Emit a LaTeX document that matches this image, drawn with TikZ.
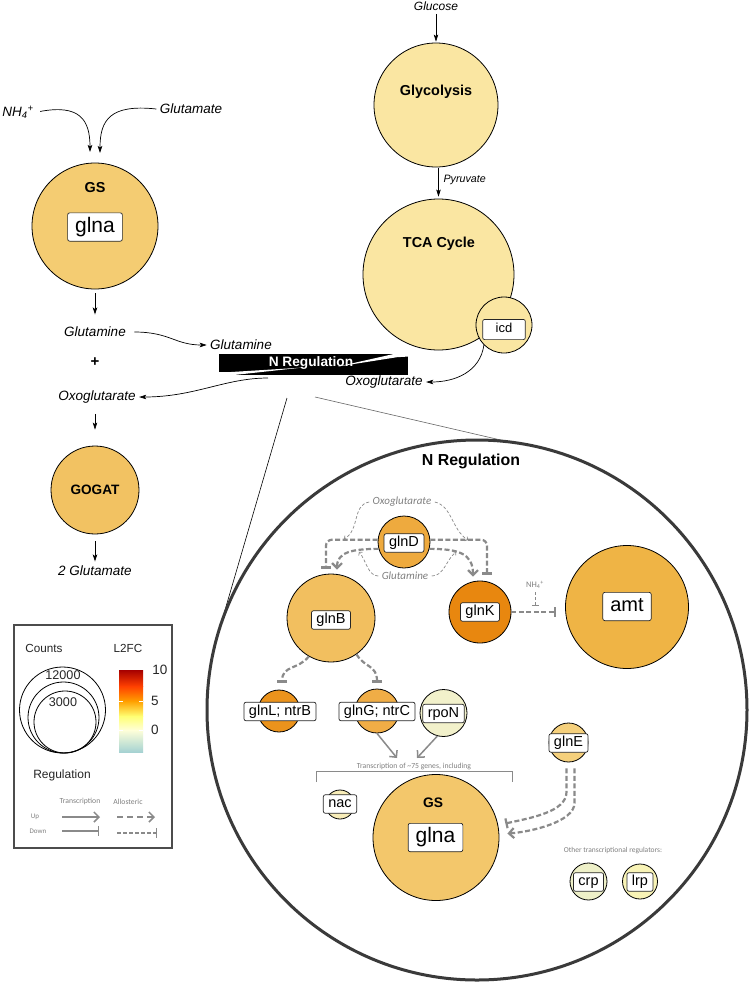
\documentclass[tikz,border=0pt]{standalone}
\usepackage{fontspec}
\setmainfont{Liberation Sans}
\newfontfamily\calfont{Carlito}
\usetikzlibrary{arrows.meta}

\newcommand\fsz[1]{\fontsize{#1}{#1}\selectfont}

\definecolor{gsc}{HTML}{F4CC72}
\definecolor{gogatc}{HTML}{F2C262}
\definecolor{palec}{HTML}{FAE6A2}
\definecolor{glnDc}{HTML}{EEAA3E}
\definecolor{glnBc}{HTML}{F2BF5F}
\definecolor{glnKc}{HTML}{E8870F}
\definecolor{amtc}{HTML}{EFB445}
\definecolor{glnLc}{HTML}{EB931C}
\definecolor{glnGc}{HTML}{F0AD46}
\definecolor{rpoNc}{HTML}{F2F1CB}
\definecolor{glnEc}{HTML}{F5D07C}
\definecolor{nacc}{HTML}{F8EDB8}
\definecolor{gstwoc}{HTML}{F3C76B}
\definecolor{crpc}{HTML}{EEF0C8}
\definecolor{lrpc}{HTML}{F8F3B6}
\definecolor{arrowgray}{HTML}{8A8A8A}
\definecolor{labelgray}{HTML}{808080}
\definecolor{ringgray}{HTML}{3A3A3A}

\tikzset{
	enzyme/.style={circle, draw=black, line width=0.8pt, inner sep=0pt, minimum size=#1},
	genebox/.style={draw=black!85, fill=white, rounded corners=2pt, line width=0.7pt, inner xsep=5pt, inner ysep=2.5pt, text height=10.5pt, text depth=3pt, font=\fsz{14.5}},
	bigbox/.style={genebox, inner xsep=7.5pt, inner ysep=4.5pt, text height=15pt, text depth=4.3pt, font=\fsz{21}},
	metab/.style={font=\itshape\fsz{13.5}},
	proc/.style={font=\bfseries\fsz{14.4}},
	flow/.style={line width=0.7pt, -{Stealth[length=7pt,width=4.5pt,inset=1.5pt]}},
	trans/.style={draw=arrowgray, line width=1.5pt},
	allo/.style={draw=arrowgray, line width=2.2pt, dash pattern=on 5pt off 2.5pt},
	hint/.style={draw=arrowgray, line width=0.7pt, dash pattern=on 3pt off 2pt},
	upreg/.style={-{Straight Barb[length=5pt,width=10pt]}},
	downreg/.style={-{Bar[width=10pt]}},
	note/.style={font=\calfont\fsz{7.7}, text=labelgray},
	legtext/.style={font=\fsz{11.7}, text=black!85},
}

\begin{document}
\begin{tikzpicture}[x=1pt,y=-1pt]
			%%%%% START %%%%%
			
			\fill[white] (0,0) rectangle (750,986);
			\useasboundingbox (0,0) rectangle (750,986);
			
			%% glutamine synthetase
			\node[enzyme=126pt, fill=gsc] (gs) at (95,226) {};
			\node[proc] (gslab) at (95,188) {GS};
			\node[bigbox] (gsbox) at (95,227) {glna};
			\node[metab] (nh4) at (18,112) {NH\textsubscript{4}\textsuperscript{+}};
			\node[metab] (glut) at (191,109) {Glutamate};
			\coordinate (gsinA) at (90,152);
			\coordinate (gsinB) at (100,153);
			\draw[flow, shorten <=3pt] (nh4.east) .. controls (80,104) and (90,120) .. (gsinA);
			\draw[flow] (glut.west) .. controls (110,104) and (100,120) .. (gsinB);
			
			\node[metab] (glu1) at (95,332) {Glutamine};
			\draw[flow, shorten <=4pt, shorten >=9pt] (gs.south) -- (glu1.north);
			\node[font=\bfseries\fsz{15}] (plus) at (95,362) {+};
			\node[metab] (oxo1) at (97,397) {Oxoglutarate};
			
			\node[enzyme=88pt, fill=gogatc] (gogat) at (95,490) {};
			\node[font=\bfseries\fsz{13.6}] (gogatlab) at (95,490) {GOGAT};
			\node[metab] (glu3) at (95,571) {2 Glutamate};
			\draw[flow, shorten <=7pt, shorten >=16pt] (oxo1.south -| gogat.north) -- (gogat.north);
			\draw[flow, shorten <=7pt, shorten >=1pt] (gogat.south) -- (glu3.north);
			
			%% glycolysis and TCA cycle
			\node[metab, font=\itshape\fsz{12}] (glc) at (436,6) {Glucose};
			\node[enzyme=124pt, fill=palec] (glyc) at (436,105) {};
			\node[proc] (glyclab) at (436,92) {Glycolysis};
			\node[enzyme=151pt, fill=palec] (tca) at (438.5,274.5) {};
			\node[proc] (tcalab) at (439,244) {TCA Cycle};
			\draw[flow, shorten >=1pt] (glc.south) -- (glyc.north);
			\draw[flow, shorten <=1pt, shorten >=2pt] (tca.north |- glyc.south) -- (tca.north);
			\node[metab, font=\itshape\fsz{10.7}, anchor=west] (pyr) at (440,180) {Pyruvate};
			
			\node[enzyme=56pt, fill=palec] (icd) at (504,325) {};
			\node[genebox, font=\fsz{13}, inner xsep=13pt, inner ysep=4pt, text height=9.5pt, text depth=2.7pt] (icdbox) at (504,329.5) {icd};
			
			%% N regulation bar
			\fill (219,354) rectangle (408,374.5);
			\fill[white] (338,366.5) -- (396,353.5) -- (409,353.5) -- (409,356.5) -- (397,357.2) -- cycle;
			\fill[white] (218,375) -- (218,372) -- (228,372.2) -- (302,367.6) -- (234,375) -- cycle;
			\node[font=\bfseries\fsz{13.7}, text=white] (nbar) at (311,363) {N Regulation};
			\node[metab] (glu2) at (241,345) {Glutamine};
			\node[metab] (oxo2) at (384,382) {Oxoglutarate};
			\coordinate (barout) at (268,378);
			\draw[flow, shorten <=5pt] (glu1.east) .. controls (170,332) and (175,345) .. (glu2.west);
			\draw[flow] (barout) .. controls (225,378) and (195,397) .. (oxo1.east);
			\draw[flow] (icd.225) .. controls (480,372) and (455,382) .. (oxo2.east);
			
			%% zoom lines
			\coordinate (zoomA) at (287,398);
			\coordinate (zoomB) at (315,397);
			\coordinate (zoomAend) at (218,634);
			\coordinate (zoomBend) at (505,441);
			\draw[line width=0.6pt] (zoomA) -- (zoomAend);
			\draw[line width=0.6pt, black!60] (zoomB) -- (zoomBend);
			
			%% N regulation detail
			\node[circle, draw=ringgray, line width=3pt, minimum size=540pt, inner sep=0pt] (nreg) at (477,710) {};
			\node[font=\bfseries\fsz{15.9}] (nreglab) at (471,461) {N Regulation};
			
			\node[enzyme=52pt, fill=glnDc] (glnD) at (404,542) {};
			\node[genebox] (glnDbox) at (404,543) {glnD};
			\node[enzyme=88pt, fill=glnBc] (glnB) at (331,618) {};
			\node[genebox] (glnBbox) at (331,620) {glnB};
			\node[enzyme=62pt, fill=glnKc] (glnK) at (480,612) {};
			\node[genebox] (glnKbox) at (480,612) {glnK};
			\node[enzyme=123pt, fill=amtc] (amt) at (627,607) {};
			\node[bigbox, font=\fsz{20}] (amtbox) at (627,606.5) {amt};
			
			\node[font=\calfont\itshape\fsz{11}, text=labelgray] (oxoD) at (402,502) {Oxoglutarate};
			\node[font=\calfont\itshape\fsz{11}, text=labelgray] (gluD) at (405,576) {Glutamine};
			\node[font=\calfont\fsz{8.5}, text=labelgray] (nh4K) at (535,585) {NH\textsubscript{4}\textsuperscript{+}};
			
			\draw[allo, downreg, rounded corners=6pt] (glnD.175) -| ([xshift=-5pt,yshift=5pt]glnB.north);
			\draw[allo, upreg] (glnD.195) .. controls (352,549) and (337,552) .. ([xshift=6pt,yshift=4pt]glnB.north);
			\draw[allo, downreg, rounded corners=6pt] (glnD.5) -| ([xshift=7pt,yshift=6pt]glnK.north);
			\draw[allo, upreg] (glnD.345) .. controls (458,549) and (473,553) .. ([xshift=-7pt,yshift=4pt]glnK.north);
			
			\draw[hint, -{Straight Barb[length=2pt,width=5pt]}] (oxoD.west) .. controls (352,505) and (360,530) .. (344,539);
			\draw[hint, -{Straight Barb[length=2pt,width=5pt]}] (oxoD.east) .. controls (452,506) and (452,530) .. (468,540);
			\draw[hint, -{Straight Barb[length=2pt,width=5pt]}] (gluD.west) .. controls (368,576) and (366,560) .. (359,552);
			\draw[hint, -{Straight Barb[length=2pt,width=5pt]}] (gluD.east) .. controls (444,576) and (446,560) .. (456,552);
			
			\coordinate (nh4end) at (535,606);
			\draw[hint, -{Bar[width=7pt]}] (nh4K.south) -- (nh4end);
			\draw[allo, downreg, shorten >=9pt] (glnK.east) -- (glnK.east -| amt.west);
			
			\node[enzyme=42pt, fill=glnLc] (glnL) at (279,711) {};
			\node[genebox] (glnLbox) at (280,711.5) {glnL; ntrB};
			\node[enzyme=44pt, fill=glnGc] (glnG) at (377,711) {};
			\node[genebox] (glnGbox) at (377,711.5) {glnG; ntrC};
			\node[enzyme=47pt, fill=rpoNc] (rpoN) at (443.5,713) {};
			\node[genebox] (rpoNbox) at (443.5,713.5) {rpoN};
			
			\draw[allo, downreg] (glnB.240) .. controls (298,670) and (282,665) .. ([xshift=3pt,yshift=7pt]glnL.north);
			\draw[allo, downreg] (glnB.305) .. controls (365,668) and (377,665) .. ([yshift=6pt]glnG.north);
			
			\coordinate (txA) at (397,758);
			\coordinate (txB) at (417,758);
			\draw[trans, upreg] (glnG.south) -- (txA);
			\draw[trans, upreg] (rpoN.255) -- (txB);
			\node[note] (txlab) at (414,766) {Transcription of \textasciitilde75 genes, including};
			\draw[line width=0.7pt, arrowgray] (316,782) -- (316,771) -- (512,771) -- (512,782);
			
			\node[enzyme=29pt, fill=nacc] (nac) at (340,804.5) {};
			\node[genebox] (nacbox) at (340,804) {nac};
			\node[enzyme=126pt, fill=gstwoc] (gstwo) at (436,837.5) {};
			\node[font=\bfseries\fsz{13.8}] (gstwolab) at (433,803) {GS};
			\node[bigbox] (gstwobox) at (435.5,837.5) {glna};
			
			\node[enzyme=39pt, fill=glnEc] (glnE) at (568.5,742.5) {};
			\node[genebox] (glnEbox) at (568.5,743) {glnE};
			\draw[allo, downreg] ([xshift=-2pt,yshift=-6pt]glnE.south) -- (566.5,792) .. controls (566.5,812) and (530,818) .. ([xshift=6pt,yshift=14pt]gstwo.east);
			\draw[allo, upreg] ([xshift=6pt,yshift=-6pt]glnE.south) -- (574.5,803) .. controls (574.5,822) and (530,832) .. ([xshift=8pt,yshift=4pt]gstwo.east);
			
			\node[note, font=\calfont\fsz{7.5}] (otherlab) at (613,851) {Other transcriptional regulators:};
			\node[enzyme=37pt, fill=crpc] (crp) at (588.5,881.5) {};
			\node[genebox] (crpbox) at (588.5,882) {crp};
			\node[enzyme=35pt, fill=lrpc] (lrp) at (640,881.5) {};
			\node[genebox] (lrpbox) at (640,882) {lrp};
			
			%% legend
			\draw[line width=1.2pt, black!70] (14,625) rectangle (172,848);
			\node[legtext] (counts) at (44,648) {Counts};
			\node[legtext] (lfc) at (128,648) {L2FC};
			\draw[line width=0.8pt] (62.5,710) circle (43pt);
			\draw[line width=0.8pt] (63.5,717.5) circle (35.5pt);
			\draw[line width=0.8pt] (65,722) circle (31pt);
			\node[legtext, font=\fsz{12.6}] (big) at (63,675) {12000};
			\node[legtext, font=\fsz{12.6}] (small) at (63,702) {3000};
			
			\shade[top color=red!65!black, bottom color=red!50!orange] (119,670) rectangle (143,686.3);
			\shade[top color=red!50!orange, bottom color=orange!75!yellow] (119,686) rectangle (143,701.3);
			\shade[top color=orange!75!yellow, bottom color=yellow!55!white] (119,701) rectangle (143,716.3);
			\shade[top color=yellow!55!white, bottom color=yellow!15!white] (119,716) rectangle (143,730.3);
			\shade[top color=yellow!15!white, bottom color=teal!35!white] (119,730) rectangle (143,752);
			\draw[white, line width=0.8pt] (119,701) -- (123,701) (139,701) -- (143,701) (119,730) -- (123,730) (139,730) -- (143,730);
			\node[legtext, font=\fsz{13.5}] (ten) at (160,670) {10};
			\node[legtext, font=\fsz{13.5}] (five) at (155,701) {5};
			\node[legtext, font=\fsz{13.5}] (zero) at (155,730) {0};
			
			\node[legtext, font=\fsz{12}] (reglab) at (62,775) {Regulation};
			\node[note] (translab) at (80,801) {Transcription};
			\node[note] (allolab) at (128,802) {Allosteric};
			\node[note, font=\calfont\fsz{7}] (uplab) at (35,817) {Up};
			\node[note, font=\calfont\fsz{7}] (downlab) at (38,831) {Down};
			\draw[trans, upreg] (62,817) -- (100,817);
			\draw[trans, downreg] (62,831) -- (99,831);
			\draw[allo, line width=1.5pt, dash pattern=on 6pt off 4pt, upreg] (117,817) -- (155,817);
			\draw[allo, line width=1.5pt, dash pattern=on 4pt off 2pt, downreg] (117,833) -- (157,833);
			
			%%%%% END %%%%%
\end{tikzpicture}
\end{document}
